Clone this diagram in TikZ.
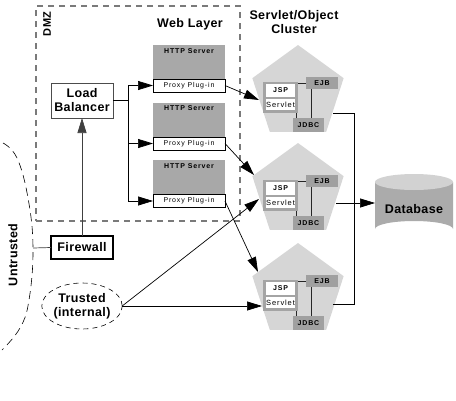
\documentclass[tikz,border=0pt]{standalone}
\usepackage{fontspec}
\setmainfont{Liberation Sans}
\newfontfamily\spc[LetterSpace=12]{Liberation Sans}
\newfontfamily\lsp[LetterSpace=3]{Liberation Sans}
\usetikzlibrary{arrows.meta,shapes.geometric}
\definecolor{pent}{HTML}{D6D6D6}
\definecolor{srv}{HTML}{A8A8A8}
\definecolor{comp}{HTML}{A0A0A0}
\definecolor{frm}{HTML}{A4A4A4}
\definecolor{dbtop}{HTML}{D2D2D2}
\definecolor{dbbody}{HTML}{ABABAB}
\definecolor{dmzc}{HTML}{7A7A7A}
\newcommand\clusterparts[1]{%
  \node[pentagon] (#1) at (#1pos) {};
  \node[jsframe] (#1fr) at ([shift={(-17.5,4.5)}]#1.center) {};
  \node[whitebox, minimum height=13pt, font=\spc\bfseries\fontsize{7}{8}\selectfont] (#1jsp) at ([shift={(-17.5,-2.5)}]#1.center) {JSP};
  \node[whitebox, minimum height=11pt, font=\spc\fontsize{7.5}{8}\selectfont] (#1srv) at ([shift={(-17.5,11.5)}]#1.center) {Servlet};
  \node[compbox, minimum width=32pt, minimum height=12pt] (#1ejb) at ([shift={(24,-10)}]#1.center) {EJB};
  \node[compbox, minimum width=31pt, minimum height=14pt] (#1jdbc) at ([shift={(10.5,32)}]#1.center) {JDBC};
  \draw[inner] (#1fr.east |- #1ejb.west) -- (#1ejb.west);
  \draw[inner] ([xshift=-11pt]#1ejb.south) -- ([xshift=-11pt]#1ejb.south |- #1jdbc.north);
  \draw[inner] ([xshift=3pt]#1jdbc.north west) -- ([xshift=3pt]#1jdbc.north west |- #1fr.south);
}
\begin{document}
\begin{tikzpicture}[x=1pt,y=-1pt,
  every node/.style={inner sep=0pt, outer sep=0pt},
  big/.style={font=\lsp\bfseries\fontsize{12.5}{14}\selectfont, align=center},
  arr/.style={-{Triangle[length=15pt,width=9pt]}, line width=0.7pt},
  conn/.style={line width=0.7pt},
  inner/.style={line width=1pt, draw=black!85},
  httpbox/.style={fill=srv, minimum width=72pt, minimum height=34pt},
  httptext/.style={font=\spc\bfseries\fontsize{7}{8}\selectfont},
  proxy/.style={draw=black, line width=0.6pt, fill=white, minimum width=72pt, minimum height=13pt, font=\spc\fontsize{7}{8}\selectfont},
  pentagon/.style={regular polygon, regular polygon sides=5, minimum size=96pt, fill=pent},
  jsframe/.style={fill=frm, minimum width=35pt, minimum height=31pt},
  whitebox/.style={fill=white, minimum width=29pt},
  compbox/.style={fill=comp, font=\spc\bfseries\fontsize{7}{8}\selectfont},
  dmzbox/.style={draw=dmzc, line width=1.2pt, dash pattern=on 6pt off 5pt, minimum width=204pt, minimum height=215pt},
  lbbox/.style={draw=black!70, line width=0.8pt, fill=white, minimum width=62pt, minimum height=35pt, big},
  fwbox/.style={draw=black, line width=1.2pt, fill=white, minimum width=62pt, minimum height=23pt, big},
  trusted/.style={ellipse, draw=black, line width=0.6pt, dash pattern=on 5pt off 4pt, minimum width=80pt, minimum height=46pt, big},
  ucurve/.style={draw=black, line width=0.6pt, dash pattern=on 8pt off 5pt}
]
\useasboundingbox (0,0) rectangle (456,400);

% DMZ
\node[dmzbox] (dmz) at (138,113.5) {};
\node[big, rotate=90, font=\lsp\bfseries\fontsize{11}{12}\selectfont] (dmzt) at (47,24) {DMZ};
\node[big] (web) at (190,24) {Web Layer};

% HTTP servers
\node[httpbox] (h1) at (189,62) {};
\node[httptext] (h1t) at ([yshift=-6pt]h1.north) {HTTP Server};
\node[proxy] (x1) at (189,85.5) {Proxy Plug-in};
\node[httpbox] (h2) at (189,119.5) {};
\node[httptext] (h2t) at ([yshift=-6pt]h2.north) {HTTP Server};
\node[proxy] (x2) at (189,143.5) {Proxy Plug-in};
\node[httpbox] (h3) at (189,177) {};
\node[httptext] (h3t) at ([yshift=-6pt]h3.north) {HTTP Server};
\node[proxy] (x3) at (189,201) {Proxy Plug-in};

% load balancer, firewall
\node[lbbox] (lb) at (82,100.5) {Load\\Balancer};
\node[fwbox] (fw) at (82,247.5) {Firewall};
\coordinate (bus) at (128,100.5);
\draw[conn] (lb.east) -- (bus);
\draw[conn] (bus |- x1.west) -- (bus |- x3.west);
\draw[arr] (bus |- x1.west) -- (x1.west);
\draw[arr] (bus |- x2.west) -- (x2.west);
\draw[arr] (bus |- x3.west) -- (x3.west);
\draw[arr, draw=black!75] (fw.north) -- (lb.south);

% untrusted
\draw[ucurve] plot[smooth, tension=0.7] coordinates {(3,143) (17,158) (28,198) (33,248) (29,300) (20,328) (2,350)};
\coordinate (uc) at (33,248);
\draw[conn, draw=black!75] (fw.west) -- (uc);
\node[big, rotate=90] (untr) at (13,255) {Untrusted};

% trusted
\node[trusted] (tr) at (82,306) {Trusted\\(internal)};

% cluster title
\node[big] (clt) at (294,22) {Servlet/Object\\Cluster};

% clusters
\coordinate (p1pos) at (298,93);
\coordinate (p2pos) at (298,191);
\coordinate (p3pos) at (298,291);
\clusterparts{p1}
\clusterparts{p2}
\clusterparts{p3}

% arrows into clusters
\draw[arr] (x1.east) -- ([shift={(-39,7)}]p1.center);
\draw[arr] (x2.east) -- ([shift={(-44,-16)}]p2.center);
\draw[arr] (x3.east) -- ([shift={(-40,-19)}]p3.center);
\draw[arr] (tr.east) -- ([shift={(-39,8)}]p2.center);
\draw[arr] (tr.east) -- ([shift={(-36,15)}]p3.center);

% database
\node (db) at (414,205.5) [minimum width=78pt, minimum height=63pt] {};
\fill[dbbody] (375,182) -- (375,229) arc[x radius=39, y radius=8, start angle=180, end angle=360] -- (453,182) -- cycle;
\fill[dbtop] (414,182) ellipse [x radius=39, y radius=8];
\node[big] (dbt) at (414,209) {Database};

% outputs
\coordinate (o1) at ([shift={(35,20)}]p1.center);
\coordinate (o2) at ([shift={(38,12)}]p2.center);
\coordinate (o3) at ([shift={(35,13)}]p3.center);
\coordinate (j1) at (354,113);
\draw[conn] (o1) -- (j1) -- (j1 |- o3) -- (o3);
\draw[arr] (o2) -- (o2 -| db.west);
\end{tikzpicture}
\end{document}
